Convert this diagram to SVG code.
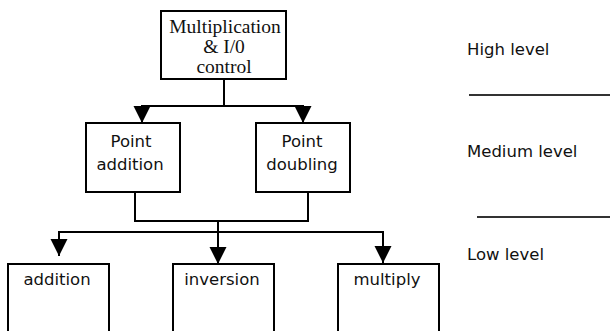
<svg xmlns="http://www.w3.org/2000/svg" width="610" height="331" viewBox="0 0 610 331">
<style>
.box{fill:#fff;stroke:#000;stroke-width:2}
.ln{stroke:#000;stroke-width:2;fill:none}
.sep{stroke:#333;stroke-width:2}
.t{font-family:"DejaVu Sans",Verdana,sans-serif;font-size:16.5px;fill:#111}
.s{font-family:"Liberation Serif","Times New Roman",serif;font-size:19.5px;fill:#111}
.m{text-anchor:middle}
</style>
<defs>
<marker id="ah" markerUnits="userSpaceOnUse" markerWidth="18" markerHeight="18" refX="17" refY="8.5" orient="auto">
<path d="M0,0 L17,8.5 L0,17 z" fill="#000"/>
</marker>
</defs>
<rect width="610" height="331" fill="#fff"/>
<g id="connectors">
<line class="ln" x1="224" y1="79" x2="224" y2="106"/>
<line class="ln" x1="141" y1="106" x2="304" y2="106"/>
<line class="ln" x1="142" y1="106" x2="142" y2="123" marker-end="url(#ah)"/>
<line class="ln" x1="303" y1="106" x2="303" y2="123" marker-end="url(#ah)"/>
<polyline class="ln" points="135,192 135,221 308,221 308,192"/>
<line class="ln" x1="218" y1="221" x2="218" y2="264" marker-end="url(#ah)"/>
<line class="ln" x1="58" y1="232" x2="384" y2="232"/>
<line class="ln" x1="59" y1="232" x2="59" y2="256" marker-end="url(#ah)"/>
<line class="ln" x1="383" y1="232" x2="383" y2="263" marker-end="url(#ah)"/>
</g>
<g id="top">
<rect class="box" x="161" y="11" width="125" height="68"/>
<text class="s m" x="225" y="33">Multiplication</text>
<text class="s m" x="224" y="53">&amp; I/0</text>
<text class="s m" x="224" y="73">control</text>
</g>
<g id="point-addition">
<rect class="box" x="86" y="123" width="94" height="69"/>
<text class="t m" x="131" y="147">Point</text>
<text class="t m" x="130" y="170">addition</text>
</g>
<g id="point-doubling">
<rect class="box" x="256" y="123" width="94" height="69"/>
<text class="t m" x="302" y="147">Point</text>
<text class="t m" x="302" y="170">doubling</text>
</g>
<g id="addition">
<rect class="box" x="8" y="264" width="101" height="80"/>
<text class="t m" x="57" y="285">addition</text>
</g>
<g id="inversion">
<rect class="box" x="173" y="264" width="101" height="80"/>
<text class="t m" x="222" y="285">inversion</text>
</g>
<g id="multiply">
<rect class="box" x="338" y="264" width="101" height="80"/>
<text class="t m" x="387" y="285">multiply</text>
</g>
<g id="levels">
<text class="t" x="467" y="55">High level</text>
<line class="sep" x1="469" y1="95" x2="610" y2="95"/>
<text class="t" x="467" y="157">Medium level</text>
<line class="sep" x1="477" y1="217" x2="610" y2="217"/>
<text class="t" x="467" y="260">Low level</text>
</g>
</svg>
